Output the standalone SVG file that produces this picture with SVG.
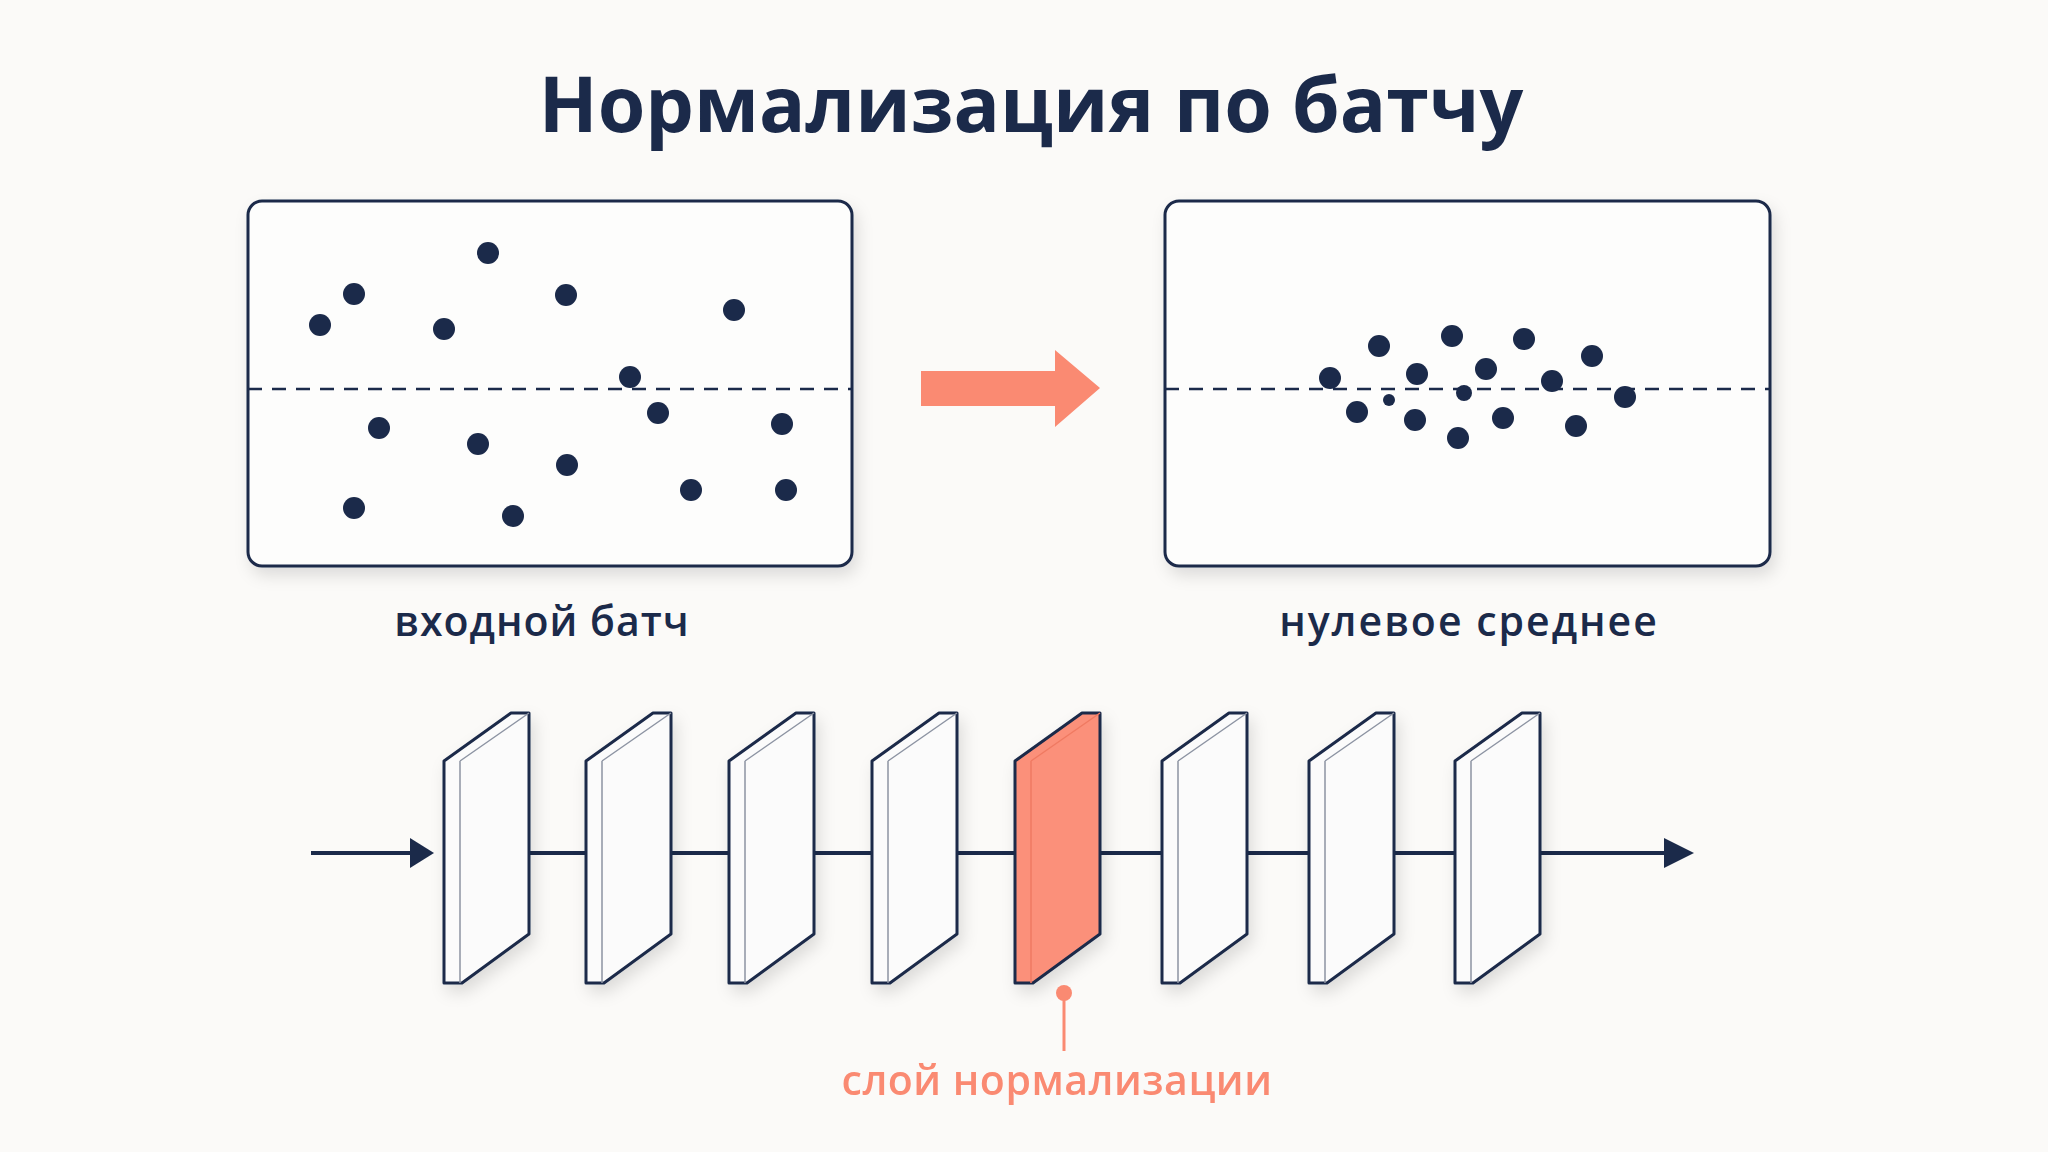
<svg xmlns="http://www.w3.org/2000/svg" width="2048" height="1152" viewBox="0 0 2048 1152">
<defs>
<style>
.t{font-family:"Open Sans","Noto Sans","Liberation Sans",sans-serif;font-weight:600;text-anchor:middle}
.box{fill:#fdfdfc;stroke:#1b2a4a;stroke-width:3}
.dash{stroke:#1b2a4a;stroke-width:2.5;stroke-dasharray:14 10}
.d{fill:#1b2a4a}
.ln{stroke:#1b2a4a;stroke-width:4;fill:none}
.lay{fill:#fbfbfb;stroke:#1b2a4a;stroke-width:3;stroke-linejoin:round}
.side{fill:#f3f3f3;stroke:#8d94a3;stroke-width:1.5}
</style>
<filter id="sh" x="-20%" y="-20%" width="140%" height="140%"><feDropShadow dx="4" dy="8" stdDeviation="8" flood-color="#000" flood-opacity="0.12"/></filter>
<symbol id="layer" overflow="visible">
<path class="lay" d="M0,761 L67,713 L85,713 L85,934 L18,983 L0,983 Z"/>
<path class="side" d="M16,761 L16,983 M16,761 L85,713" fill="none"/>
</symbol>
</defs>
<rect width="2048" height="1152" fill="#fbfaf8"/>
<text class="t" x="1031" y="132" font-size="77" fill="#1b2a4a" style="font-weight:700">Нормализация по батчу</text>

<g id="input-batch">
<rect class="box" x="248" y="201" width="604" height="365" rx="14" filter="url(#sh)"/>
<line class="dash" x1="248" y1="389" x2="852" y2="389"/>
<g class="d">
<circle cx="320" cy="325" r="11"/><circle cx="354" cy="294" r="11"/><circle cx="488" cy="253" r="11"/><circle cx="566" cy="295" r="11"/>
<circle cx="444" cy="329" r="11"/><circle cx="734" cy="310" r="11"/><circle cx="630" cy="377" r="11"/><circle cx="658" cy="413" r="11"/>
<circle cx="379" cy="428" r="11"/><circle cx="478" cy="444" r="11"/><circle cx="567" cy="465" r="11"/><circle cx="782" cy="424" r="11"/>
<circle cx="786" cy="490" r="11"/><circle cx="691" cy="490" r="11"/><circle cx="354" cy="508" r="11"/><circle cx="513" cy="516" r="11"/>
</g>
<text class="t" x="542" y="636" font-size="41" fill="#1b2a4a" letter-spacing="1">входной батч</text>
</g>

<g id="arrow-main">
<path d="M921,371 L1055,371 L1055,350 L1100,388 L1055,427 L1055,406 L921,406 Z" fill="#fa8a72"/>
</g>

<g id="zero-mean">
<rect class="box" x="1165" y="201" width="605" height="365" rx="14" filter="url(#sh)"/>
<line class="dash" x1="1165" y1="389" x2="1770" y2="389"/>
<g class="d">
<circle cx="1330" cy="378" r="11"/><circle cx="1379" cy="346" r="11"/><circle cx="1452" cy="336" r="11"/><circle cx="1524" cy="339" r="11"/>
<circle cx="1592" cy="356" r="11"/><circle cx="1417" cy="374" r="11"/><circle cx="1486" cy="369" r="11"/><circle cx="1552" cy="381" r="11"/>
<circle cx="1625" cy="397" r="11"/><circle cx="1357" cy="412" r="11"/><circle cx="1415" cy="420" r="11"/><circle cx="1458" cy="438" r="11"/>
<circle cx="1503" cy="418" r="11"/><circle cx="1576" cy="426" r="11"/><circle cx="1464" cy="393" r="8"/><circle cx="1389" cy="400" r="6"/>
</g>
<text class="t" x="1469" y="636" font-size="41" fill="#1b2a4a" letter-spacing="2">нулевое среднее</text>
</g>

<g id="connectors">
<path d="M410,838 L434,853 L410,868 Z" fill="#1b2a4a"/>
<line class="ln" x1="1540" y1="853" x2="1670" y2="853"/>
<path d="M1664,838 L1694,853 L1664,868 Z" fill="#1b2a4a"/>
<line class="ln" x1="311" y1="853" x2="420" y2="853"/>
<line class="ln" x1="529" y1="853" x2="586" y2="853"/>
<line class="ln" x1="671" y1="853" x2="729" y2="853"/>
<line class="ln" x1="814" y1="853" x2="872" y2="853"/>
<line class="ln" x1="957" y1="853" x2="1015" y2="853"/>
<line class="ln" x1="1100" y1="853" x2="1162" y2="853"/>
<line class="ln" x1="1247" y1="853" x2="1309" y2="853"/>
<line class="ln" x1="1394" y1="853" x2="1455" y2="853"/>
</g>

<g id="layers" filter="url(#sh)">
<use href="#layer" x="444"/>
<use href="#layer" x="586"/>
<use href="#layer" x="729"/>
<use href="#layer" x="872"/>
<g id="norm-layer" transform="translate(1015,0)">
<path d="M0,761 L67,713 L85,713 L85,934 L18,983 L0,983 Z" fill="#fb907a" stroke="#1b2a4a" stroke-width="3" stroke-linejoin="round"/>
<path d="M16,761 L16,983 M16,761 L85,713" fill="none" stroke="#f07a62" stroke-width="1.5"/>
</g>
<use href="#layer" x="1162"/>
<use href="#layer" x="1309"/>
<use href="#layer" x="1455"/>
</g>

<g id="callout">
<circle cx="1064" cy="993" r="8" fill="#fa8a72"/>
<line x1="1064" y1="993" x2="1064" y2="1051" stroke="#fa8a72" stroke-width="3"/>
<text class="t" x="1057" y="1095" font-size="41" fill="#fa8a72" letter-spacing="0.5">слой нормализации</text>
</g>
</svg>
